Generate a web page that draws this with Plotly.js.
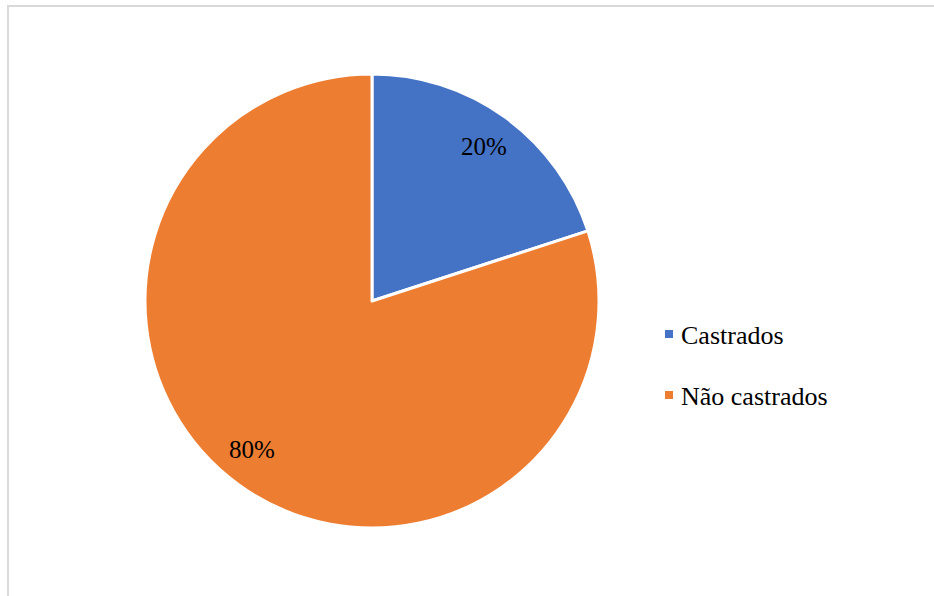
<!DOCTYPE html>
<html>
<head>
<meta charset="utf-8">
<script src="https://cdn.plot.ly/plotly-3.0.1.min.js"></script>
<style>
html,body{margin:0;padding:0;background:#fff;}
#chart{position:absolute;left:0;top:0;width:934px;height:596px;}
#frame{position:absolute;left:7px;top:5px;width:940px;height:600px;border-left:2px solid #d9d9d9;border-top:2px solid #d9d9d9;pointer-events:none;}
</style>
</head>
<body>
<div id="chart"></div>
<div id="frame"></div>
<script>
const labels = ["Castrados", "Não castrados"];
const values = [20, 80];
const colors = ["#4472C4", "#ED7D31"];

const W = 934, H = 596;
const M = {l: 145, t: 74, r: 335, b: 68};
const PW = W - M.l - M.r, PH = H - M.t - M.b;
const px = x => (x - M.l) / PW;
const py = y => 1 - (y - M.t) / PH;
const FONT = "Liberation Serif";

const shapes = [], annotations = [];
labels.forEach((lab, i) => {
  const yc = 334 + i * 61;
  shapes.push({type: 'rect', xref: 'paper', yref: 'paper',
    x0: px(665), x1: px(673), y0: py(yc - 4), y1: py(yc + 4),
    fillcolor: colors[i], line: {width: 0}});
  annotations.push({xref: 'paper', yref: 'paper', x: px(679), y: py(yc + 1),
    xanchor: 'left', yanchor: 'middle', showarrow: false, text: lab,
    font: {family: FONT, size: 26, color: '#000'}});
});

// percentage labels placed at the middle angle of each slice (clockwise from 12 o'clock)
const total = values.reduce((a, b) => a + b, 0);
let cum = 0;
values.forEach((v, i) => {
  const mid = (cum + v / 2) / total * 2 * Math.PI + (i === 1 ? 0.05 : 0);
  cum += v;
  const rf = 0.84 * 0.5;
  annotations.push({xref: 'paper', yref: 'paper',
    x: 0.5 + rf * Math.sin(mid), y: 0.5 + rf * Math.cos(mid),
    xanchor: 'center', yanchor: 'middle', showarrow: false,
    text: Math.round(v / total * 100) + '%',
    font: {family: FONT, size: 25, color: '#000'}});
});

const trace = {
  type: 'pie', labels: labels, values: values, sort: false,
  direction: 'clockwise', rotation: 0,
  marker: {colors: colors, line: {color: '#fff', width: 3}},
  textinfo: 'none',
  hoverinfo: 'none'
};

Plotly.newPlot('chart', [trace], {
  width: W, height: H, margin: M, showlegend: false,
  paper_bgcolor: '#fff', plot_bgcolor: '#fff',
  shapes: shapes, annotations: annotations
}, {displayModeBar: false, staticPlot: true});
</script>
</body>
</html>
